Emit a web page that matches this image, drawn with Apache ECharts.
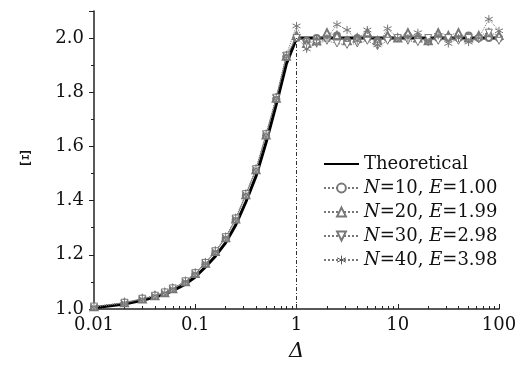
<!DOCTYPE html>
<html>
<head>
<meta charset="utf-8">
<script src="https://cdn.jsdelivr.net/npm/echarts@6/dist/echarts.min.js"></script>
<style>
  html, body { margin: 0; padding: 0; background: #fff; }
  #main { width: 523px; height: 367px; }
</style>
</head>
<body>
<div id="main"></div>
<script>
var deltas = [0.01, 0.02, 0.03, 0.04, 0.05, 0.06, 0.08, 0.1, 0.126, 0.158, 0.2, 0.251, 0.316, 0.398, 0.501, 0.631, 0.794,
    1, 1.26, 1.58, 2, 2.51, 3.16, 3.98, 5.01, 6.31, 7.94, 10, 12.6, 15.8, 20, 25.1, 31.6, 39.8, 50.1, 63.1, 79.4, 100];

var theoretical = [1.005, 1.018, 1.032, 1.044, 1.055, 1.068, 1.092, 1.118, 1.155, 1.195, 1.245, 1.31, 1.395, 1.49, 1.615, 1.755, 1.905,
    2.0, 2.0, 2.0, 2.0, 2.0, 2.0, 2.0, 2.0, 2.0, 2.0, 2.0, 2.0, 2.0, 2.0, 2.0, 2.0, 2.0, 2.0, 2.0, 2.0, 2.0];

var n10 = [1.008, 1.022, 1.037, 1.048, 1.059, 1.074, 1.100, 1.130, 1.168, 1.210, 1.262, 1.330, 1.420, 1.512, 1.640, 1.775, 1.930,
    2.0, 1.99, 2.0, 2.0, 2.01, 1.99, 2.0, 2.0, 1.99, 2.0, 2.0, 2.01, 2.0, 1.99, 2.0, 2.0, 2.0, 2.01, 2.0, 2.0, 2.0];
var n20 = [1.008, 1.023, 1.037, 1.049, 1.060, 1.075, 1.101, 1.131, 1.169, 1.212, 1.263, 1.332, 1.422, 1.514, 1.642, 1.778, 1.933,
    2.01, 1.98, 1.99, 2.02, 2.01, 1.99, 2.0, 2.02, 1.99, 2.01, 2.0, 2.02, 2.0, 1.99, 2.02, 2.01, 2.02, 2.0, 2.01, 2.02, 2.01];
var n30 = [1.009, 1.023, 1.038, 1.049, 1.061, 1.076, 1.102, 1.132, 1.170, 1.213, 1.265, 1.334, 1.424, 1.516, 1.645, 1.780, 1.935,
    2.0, 1.965, 1.98, 1.99, 1.98, 1.975, 1.98, 1.99, 1.97, 1.99, 2.0, 1.99, 1.985, 2.0, 1.99, 2.0, 1.99, 2.0, 1.995, 2.02, 1.99];
var n40 = [1.009, 1.024, 1.038, 1.050, 1.061, 1.076, 1.103, 1.133, 1.171, 1.214, 1.266, 1.335, 1.425, 1.518, 1.647, 1.782, 1.938,
    2.045, 1.96, 1.98, 2.0, 2.05, 2.03, 1.99, 2.03, 1.975, 2.035, 2.0, 2.0, 2.02, 1.985, 2.01, 1.98, 2.0, 1.985, 2.0, 2.07, 2.027];

var yTicks = [1.0, 1.2, 1.4, 1.6, 1.8, 2.0];

function pairs(ys) {
    return deltas.map(function (d, i) { return [d, ys[i]]; });
}

var FONT = "DejaVu Serif";
var GRAY = "#777";
var downTri = "path://M0,0L10,0L5,9Z";
var star = "path://M5,0L5,10M0.7,2.5L9.3,7.5M0.7,7.5L9.3,2.5";

function simSeries(name, ys, symbol, size, empty) {
    return {
        name: name,
        type: "line",
        data: pairs(ys),
        symbol: symbol,
        symbolSize: size,
        lineStyle: { color: GRAY, width: 1, type: "dotted" },
        itemStyle: empty ? { color: GRAY, borderColor: GRAY, borderWidth: 1 }
                         : { color: "#fff", borderColor: GRAY, borderWidth: 1 },
        z: 3
    };
}

var legendNames = ["Theoretical", "N=10, E=1.00", "N=20, E=1.99", "N=30, E=2.98", "N=40, E=3.98"];

var chart = echarts.init(document.getElementById("main"));
chart.setOption({
    animation: false,
    backgroundColor: "#fff",
    grid: { left: 94, right: 24, top: 11, bottom: 55 },
    legend: {
        left: 318, top: 150,
        orient: "vertical",
        itemWidth: 35, itemHeight: 11, itemGap: 6,
        textStyle: {
            fontFamily: FONT, fontSize: 18, color: "#111",
            rich: { i: { fontFamily: FONT, fontSize: 18, fontStyle: "italic", color: "#111" } }
        },
        formatter: function (name) {
            if (name == "Theoretical") return name;
            return name.replace(/N/, "{i|N}").replace(/E/, "{i|E}");
        },
        data: legendNames.map(function (n, i) {
            if (i == 4) return { name: n, itemStyle: { color: "#fff", borderColor: "#555", borderWidth: 1 } };
            return { name: n };
        })
    },
    xAxis: {
        type: "log", logBase: 10, min: 0.01, max: 100,
        name: "Δ", nameLocation: "middle", nameGap: 32,
        nameTextStyle: { fontFamily: FONT, fontSize: 21, fontStyle: "italic", color: "#111" },
        axisLine: { lineStyle: { color: "#222", width: 1.5 } },
        axisTick: { inside: true, length: 5, lineStyle: { color: "#222" } },
        minorTick: { show: true, splitNumber: 9, length: 3, lineStyle: { color: "#222" } },
        splitLine: { show: false },
        axisLabel: {
            fontFamily: FONT, fontSize: 18, color: "#111", margin: 7,
            formatter: function (v) { return String(v); }
        }
    },
    yAxis: {
        type: "value", min: 1.0, max: 2.1, interval: 0.2,
        name: "Ξ", nameLocation: "middle", nameGap: 62, nameRotate: 0,
        nameTextStyle: { fontFamily: FONT, fontSize: 19, color: "#111" },
        axisLine: { show: true, lineStyle: { color: "#222", width: 1.5 } },
        axisTick: { show: true, length: 5, lineStyle: { color: "#222" } },
        minorTick: { show: true, splitNumber: 2, length: 3, lineStyle: { color: "#222" } },
        splitLine: { show: false },
        axisLabel: {
            fontFamily: FONT, fontSize: 18, color: "#111", margin: 10, showMaxLabel: false,
            formatter: function (v) {
                return yTicks.indexOf(Math.round(v * 10) / 10) >= 0 ? v.toFixed(1) : "";
            }
        }
    },
    series: [
        {
            name: "Theoretical",
            type: "line",
            data: pairs(theoretical),
            symbol: "none",
            lineStyle: { color: "#000", width: 3 },
            itemStyle: { color: "rgba(0,0,0,0)" },
            z: 2,
            markLine: {
                silent: true,
                symbol: "none",
                label: { show: false },
                lineStyle: { color: "#333", width: 1, type: [4, 2, 1, 2] },
                data: [[{ coord: [1, 1.0] }, { coord: [1, 2.0] }]]
            }
        },
        simSeries("N=10, E=1.00", n10, "emptyCircle", 6, true),
        simSeries("N=20, E=1.99", n20, "emptyTriangle", 7, true),
        simSeries("N=30, E=2.98", n30, downTri, 7, false),
        simSeries("N=40, E=3.98", n40, star, 8, false)
    ]
});
</script>
</body>
</html>
